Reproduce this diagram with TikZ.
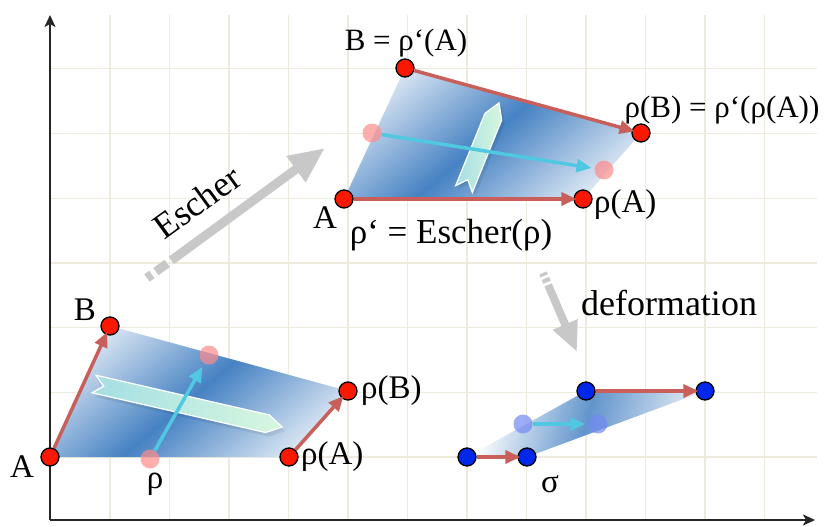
\documentclass[tikz,border=0pt]{standalone}
\usepackage{fontspec}
\setmainfont{Liberation Serif}
\usetikzlibrary{arrows.meta}
\definecolor{gridc}{RGB}{238,234,222}
\definecolor{redarr}{RGB}{200,95,90}
\definecolor{cyanarr}{RGB}{80,200,225}
\definecolor{dotred}{RGB}{250,25,0}
\definecolor{dotblue}{RGB}{0,40,235}
\definecolor{bdark}{RGB}{70,130,195}
\definecolor{blight}{RGB}{215,228,242}
\definecolor{graya}{RGB}{200,200,200}
\definecolor{ribA}{RGB}{165,222,228}
\definecolor{ribB}{RGB}{215,247,222}
\tikzset{
  lbl/.style={font=\fontsize{33}{38}\selectfont, inner sep=0pt},
  lblsmall/.style={font=\fontsize{31}{36}\selectfont, inner sep=0pt},
  lblbig/.style={font=\fontsize{36}{40}\selectfont, inner sep=0pt},
  vdot/.style={circle, minimum size=18pt, inner sep=0pt, fill=dotred, draw=black, line width=1.3pt},
  bdot/.style={circle, minimum size=18pt, inner sep=0pt, fill=dotblue, draw=black, line width=1.3pt},
  pdot/.style={circle, minimum size=19pt, inner sep=0pt, fill=red!45, fill opacity=0.7},
  fbdot/.style={circle, minimum size=19pt, inner sep=0pt, fill=dotblue!55, fill opacity=0.7},
  redvec/.style={draw=redarr, line width=3.5pt, -{Triangle[width=13pt,length=15pt]}},
  cyanvec/.style={draw=cyanarr, line width=3.5pt, -{Triangle[width=13pt,length=15pt]}},
  bigarrow/.style={draw=graya, line width=9pt, -{Triangle[width=30pt,length=36pt]}},
  grayseg/.style={draw=graya, line width=9pt},
  gridline/.style={draw=gridc, line width=1.3pt},
  axis/.style={draw=black!85, line width=2.2pt, -{Stealth[length=12pt,width=11pt,inset=3pt]}},
  quad/.style={top color=blight, bottom color=blight, middle color=bdark, shading angle=40},
  ribbon/.style={left color=ribA, right color=ribB, draw=white, line width=1.2pt},
  ribshadow/.style={fill=black, opacity=0.08},
}
\begin{document}
\begin{tikzpicture}[x=1pt,y=1pt]
\useasboundingbox (0,0) rectangle (832,-527);
\fill[white] (0,0) rectangle (832,-527);
% grid
\foreach \i in {0,...,11} {
  \draw[gridline] ({110+59.5*\i},-15) -- ({110+59.5*\i},-520);
}
\foreach \j in {0,...,6} {
  \draw[gridline] (50,{-457+64.7*\j}) -- (817,{-457+64.7*\j});
}
% axes
\coordinate (O) at (50,-520);
\coordinate (Ytop) at (50,-15);
\coordinate (Xend) at (815,-520);
\draw[axis] (O) -- (Ytop);
\draw[axis] (O) -- (Xend);

% ---------- lower-left figure ----------
\coordinate (a1) at (50,-457);
\coordinate (b1) at (110,-326);
\coordinate (rb1) at (348,-391);
\coordinate (ra1) at (289,-457);
\shade[quad] (a1) -- (b1) -- (rb1) -- (ra1) -- cycle;
% ribbon arrow
\begin{scope}[shift={(97,-388)}, rotate=-12.9]
  \fill[ribshadow] (0,9) -- (178,9) -- (193,0) -- (178,-9) -- (0,-9) -- (10,0) -- cycle;
\end{scope}
\begin{scope}[shift={(94,-384)}, rotate=-12.9]
  \shade[ribbon] (0,9) -- (178,9) -- (193,0) -- (178,-9) -- (0,-9) -- (10,0) -- cycle;
\end{scope}
\node[pdot] (p1) at (150,-459) {};
\node[pdot] (q1) at (209,-355) {};
\draw[cyanvec, shorten >=4pt] (p1) -- (q1);
\node[vdot] (A1) at (a1) {};
\node[vdot] (B1) at (b1) {};
\node[vdot] (RB1) at (rb1) {};
\node[vdot] (RA1) at (ra1) {};
\draw[redvec, shorten >=-3pt] (A1) -- (B1);
\draw[redvec, shorten >=-3pt] (RA1) -- (RB1);
\node[lbl] (lA1) at (22,-467) {A};
\node[lbl] (lB1) at (85,-310) {B};
\node[lbl] (lrho1) at (155,-484) {ρ};
\node[lbl, anchor=west] (lRA1) at (301,-457) {ρ(A)};
\node[lbl, anchor=west] (lRB1) at (361,-391) {ρ(B)};

% ---------- top figure ----------
\coordinate (a2) at (344,-199);
\coordinate (b2) at (405,-68);
\coordinate (rb2) at (641,-133);
\coordinate (ra2) at (583,-199);
\shade[quad] (a2) -- (b2) -- (rb2) -- (ra2) -- cycle;
\begin{scope}[shift={(467,-192)}, rotate=67.9]
  \fill[ribshadow] (0,9) -- (78,9) -- (93,0) -- (78,-9) -- (0,-9) -- (10,0) -- cycle;
\end{scope}
\begin{scope}[shift={(464,-189)}, rotate=67.9]
  \shade[ribbon] (0,9) -- (78,9) -- (93,0) -- (78,-9) -- (0,-9) -- (10,0) -- cycle;
\end{scope}
\node[pdot] (p2) at (372,-133) {};
\node[pdot] (q2) at (604,-170) {};
\draw[cyanvec, shorten >=3pt] (p2) -- (q2);
\node[vdot] (A2) at (a2) {};
\node[vdot] (B2) at (b2) {};
\node[vdot] (RB2) at (rb2) {};
\node[vdot] (RA2) at (ra2) {};
\draw[redvec, shorten >=-3pt] (B2) -- (RB2);
\draw[redvec, shorten >=-3pt] (A2) -- (RA2);
\node[lblsmall] (lB2) at (406,-43) {B = ρ‘(A)};
\node[lblsmall] (lRB2) at (722,-110) {ρ(B) = ρ‘(ρ(A))};
\node[lbl, anchor=west] (lRA2) at (594,-205) {ρ(A)};
\node[lbl] (lA2) at (325,-218) {A};
\node[lbl, font=\fontsize{35}{40}\selectfont] (lesch) at (451,-235) {ρ‘ = Escher(ρ)};

% ---------- Escher arrow ----------
\coordinate (e0) at (147,-278);
\coordinate (e1) at (151.9,-274.5);
\coordinate (e2) at (155.9,-271.6);
\coordinate (e3) at (167.2,-263.4);
\coordinate (e4) at (171.3,-260.4);
\coordinate (etip) at (325,-148);
\draw[grayseg] (e0) -- (e1);
\draw[grayseg] (e2) -- (e3);
\draw[bigarrow] (e4) -- (etip);
\node[lblbig, rotate=36] (lEscher) at (197,-202) {Escher};

% ---------- deformation arrow ----------
\coordinate (d0) at (543,-273);
\coordinate (d1) at (544.2,-275.8);
\coordinate (d2) at (545.4,-278.5);
\coordinate (d3) at (547,-282.2);
\coordinate (d4) at (548.1,-284.9);
\coordinate (dtip) at (577,-352);
\draw[grayseg, line width=8pt] (d0) -- (d1);
\draw[grayseg, line width=8pt] (d2) -- (d3);
\draw[bigarrow, line width=8pt, -{Triangle[width=25pt,length=30pt]}] (d4) -- (dtip);
\node[lblbig] (ldef) at (669,-303) {deformation};

% ---------- lower-right figure ----------
\coordinate (s1) at (467,-457);
\coordinate (s2) at (527,-457);
\coordinate (s3) at (705,-391);
\coordinate (s4) at (586,-391);
\shade[left color=white, right color=blight!70, middle color=bdark!85, shading angle=75] (s1) -- (s2) -- (s3) -- (s4) -- cycle;
\node[fbdot] (t1) at (523,-424) {};
\node[fbdot] (t2) at (598,-424) {};
\draw[cyanvec, shorten >=3pt] (t1) -- (t2);
\node[bdot] (S1) at (s1) {};
\node[bdot] (S2) at (s2) {};
\node[bdot] (S3) at (s3) {};
\node[bdot] (S4) at (s4) {};
\draw[redvec, shorten >=-3pt] (S1) -- (S2);
\draw[redvec, shorten >=-3pt] (S4) -- (S3);
\node[lbl] (lsigma) at (550,-484) {σ};
\end{tikzpicture}
\end{document}
